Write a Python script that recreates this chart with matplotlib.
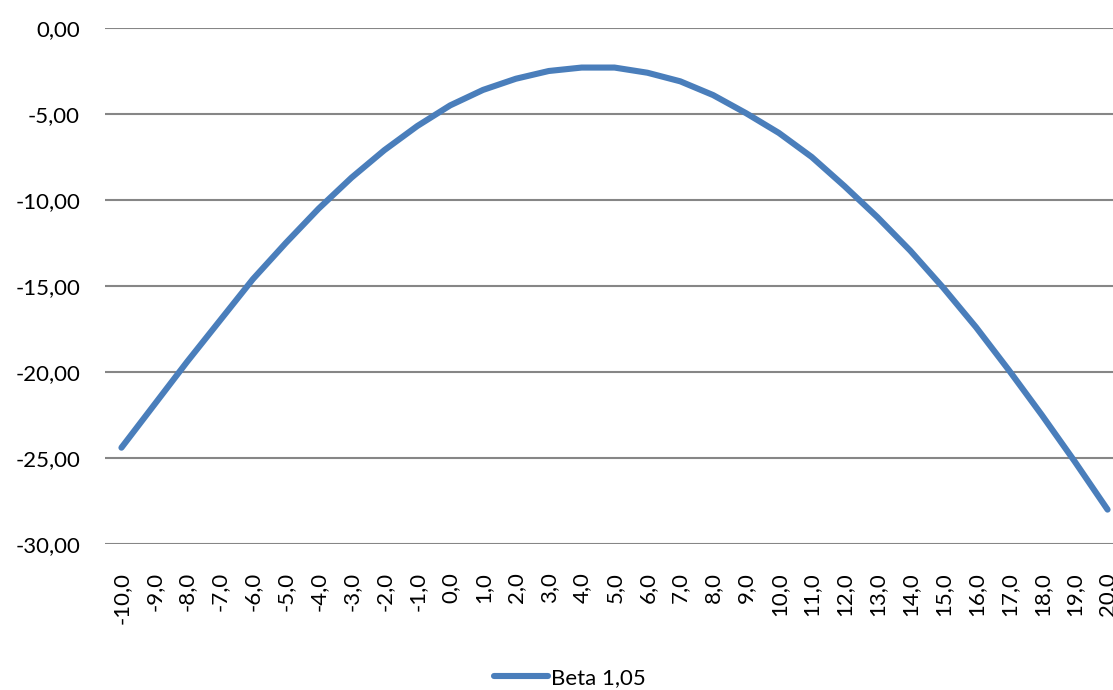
import numpy as np
import matplotlib.pyplot as plt

# categorias do eixo x e valores da serie
categorias = [float(v) for v in range(-10, 21)]
beta_105 = [-24.4, -21.9, -19.4, -17.0, -14.6, -12.5, -10.5, -8.7, -7.1, -5.7,
            -4.5, -3.6, -2.95, -2.5, -2.3, -2.3, -2.6, -3.1, -3.9, -4.95,
            -6.1, -7.5, -9.2, -11.0, -12.95, -15.1, -17.4, -19.9, -22.5, -25.2,
            -28.0]
yticks = [0, -5, -10, -15, -20, -25, -30]

plt.rcParams['font.family'] = ['Lato', 'DejaVu Sans']

W, H = 1113, 690
fig = plt.figure(figsize=(W / 100, H / 100), dpi=100)
# eixo vai alem da borda direita, como no original (rotulo 20,0 cortado)
ax = fig.add_axes([105 / W, 1 - 544 / H, (1124 - 105) / W, (544 - 28) / H])

pos = np.arange(len(categorias))
ax.plot(pos, beta_105, color='#4A7EBB', linewidth=4.4, solid_capstyle='round',
        label='Beta 1,05', clip_on=False)

ax.set_xlim(-0.5, len(categorias) - 0.5)
ax.set_ylim(-30, 0)
ax.set_yticks(yticks)
ax.set_yticklabels(['{:.2f}'.format(v).replace('.', ',') for v in yticks])
ax.set_xticks(pos)
ax.set_xticklabels(['{:.1f}'.format(v).replace('.', ',') for v in categorias],
                   rotation=90, va='top', ha='center')

for s in ax.spines.values():
    s.set_visible(False)
ax.yaxis.grid(True, color='#868686', linewidth=1.5)
ax.set_axisbelow(True)
ax.tick_params(axis='both', length=0, labelsize=16, colors='black')
ax.tick_params(axis='y', pad=18)
ax.tick_params(axis='x', pad=20)

fig.legend(loc='center', bbox_to_anchor=(570 / W, 1 - 678 / H), frameon=False,
           fontsize=16, handlelength=2.4, handletextpad=0.15)

fig.savefig('out.png', dpi=100)
